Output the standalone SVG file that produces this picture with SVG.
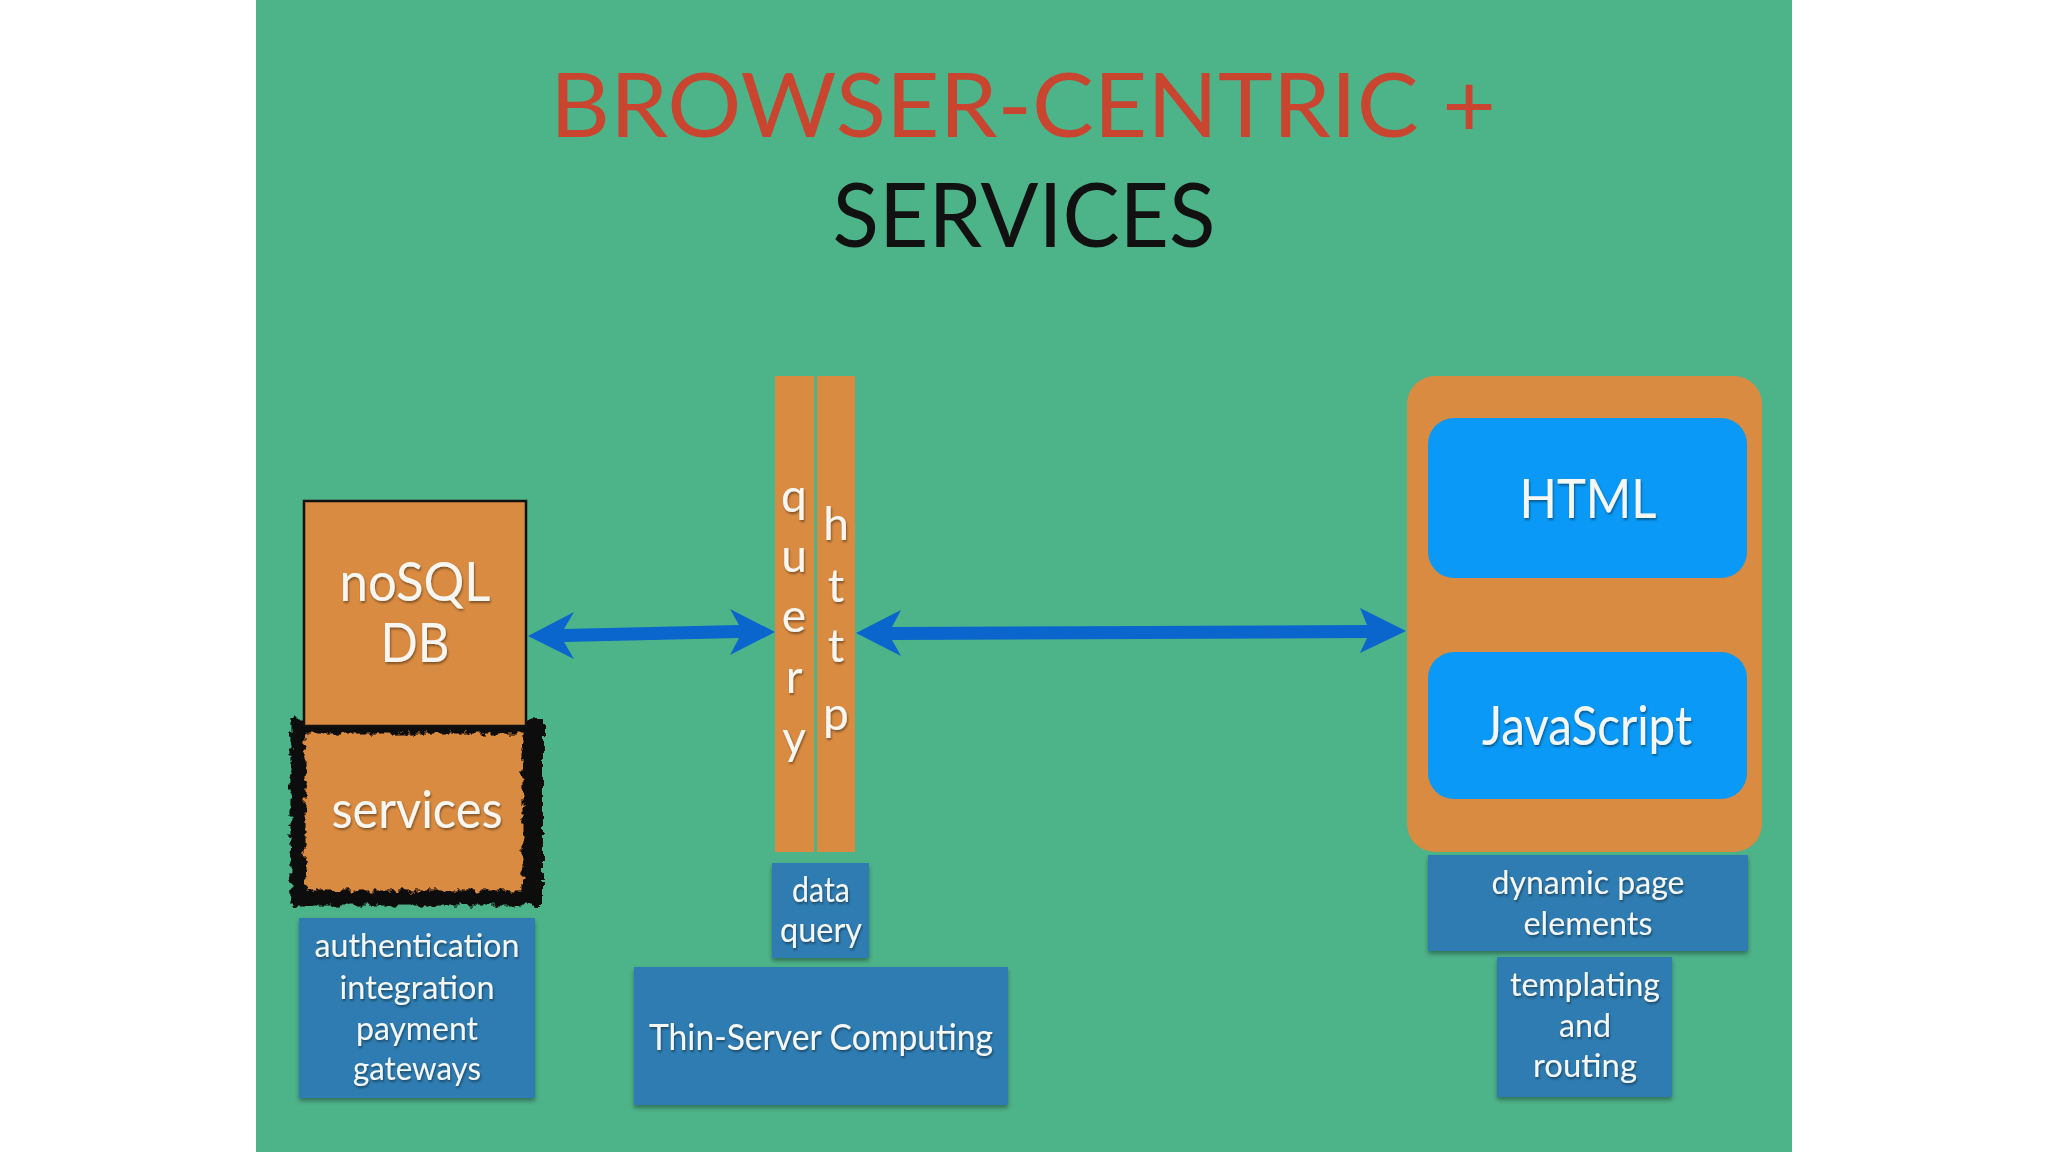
<svg xmlns="http://www.w3.org/2000/svg" width="2048" height="1152" viewBox="0 0 2048 1152">
<defs>
<style>
.t{font-family:Lato,"Open Sans","Liberation Sans",sans-serif;fill:#f6f6f2;text-anchor:middle}
.orange{fill:#d98b41}
.blue{fill:#2e7bb1}
.bright{fill:#0a99f6}
.arrow{fill:#0a66cc}
</style>
<filter id="sh" x="-10%" y="-10%" width="120%" height="130%">
<feDropShadow dx="0" dy="3" stdDeviation="2" flood-color="#000" flood-opacity="0.35"/>
</filter>
<filter id="tsh" x="-10%" y="-20%" width="120%" height="150%">
<feDropShadow dx="1" dy="2" stdDeviation="1.2" flood-color="#000" flood-opacity="0.4"/>
</filter>
<filter id="rough" x="-10%" y="-10%" width="120%" height="120%">
<feTurbulence type="fractalNoise" baseFrequency="0.12" numOctaves="3" seed="4" result="n"/>
<feDisplacementMap in="SourceGraphic" in2="n" scale="11" xChannelSelector="R" yChannelSelector="G"/>
</filter>
</defs>
<rect x="0" y="0" width="2048" height="1152" fill="#ffffff"/>
<rect x="256" y="0" width="1536" height="1152" fill="#4db389"/>

<g id="title">
<text class="t" x="1023" y="137" font-size="90" textLength="946" lengthAdjust="spacingAndGlyphs" style="fill:#c9452f">BROWSER-CENTRIC +</text>
<text class="t" x="1024" y="247" font-size="90" textLength="383" lengthAdjust="spacingAndGlyphs" style="fill:#111111">SERVICES</text>
</g>

<g id="services">
<rect class="orange" x="300" y="724" width="236" height="176"/>
<g filter="url(#rough)" fill="none" stroke="#0a0a0a">
<rect x="298" y="726" width="232" height="172" stroke-width="15"/>
<rect x="294" y="722" width="246" height="180" stroke-width="6"/>
<rect x="525" y="728" width="16" height="166" fill="#0a0a0a" stroke="none"/>
</g>
<text class="t" x="417" y="828" font-size="52" textLength="171" lengthAdjust="spacingAndGlyphs" filter="url(#tsh)">services</text>
</g>

<g id="nosql">
<rect class="orange" x="304" y="501" width="222" height="225" stroke="#111" stroke-width="2.5"/>
<text class="t" x="415" y="601" font-size="54" textLength="151" lengthAdjust="spacingAndGlyphs" filter="url(#tsh)">noSQL</text>
<text class="t" x="415" y="662" font-size="54" textLength="69" lengthAdjust="spacingAndGlyphs" filter="url(#tsh)">DB</text>
</g>

<g id="auth">
<rect class="blue" x="299" y="918" width="236" height="180" filter="url(#sh)"/>
<g font-size="32" filter="url(#tsh)">
<text class="t" x="417" y="957" textLength="205" lengthAdjust="spacingAndGlyphs">authentication</text>
<text class="t" x="417" y="999" textLength="155" lengthAdjust="spacingAndGlyphs">integration</text>
<text class="t" x="417" y="1040" textLength="122" lengthAdjust="spacingAndGlyphs">payment</text>
<text class="t" x="417" y="1080" textLength="128" lengthAdjust="spacingAndGlyphs">gateways</text>
</g>
</g>

<g id="query-bar">
<rect class="orange" x="775" y="376" width="39" height="476"/>
<g font-size="46" filter="url(#tsh)">
<text class="t" x="794" y="512">q</text>
<text class="t" x="794" y="572">u</text>
<text class="t" x="794" y="632">e</text>
<text class="t" x="794" y="693">r</text>
<text class="t" x="794" y="754">y</text>
</g>
</g>

<g id="http-bar">
<rect class="orange" x="817" y="376" width="38" height="476"/>
<g font-size="46" filter="url(#tsh)">
<text class="t" x="836" y="540">h</text>
<text class="t" x="836" y="602">t</text>
<text class="t" x="836" y="662">t</text>
<text class="t" x="836" y="730">p</text>
</g>
</g>

<g id="data-query">
<rect class="blue" x="772" y="863" width="97" height="95" filter="url(#sh)"/>
<g font-size="34" filter="url(#tsh)">
<text class="t" x="821" y="902" textLength="58" lengthAdjust="spacingAndGlyphs">data</text>
<text class="t" x="821" y="942" textLength="82" lengthAdjust="spacingAndGlyphs">query</text>
</g>
</g>

<g id="thin-server">
<rect class="blue" x="634" y="967" width="374" height="138" filter="url(#sh)"/>
<text class="t" x="821" y="1050" font-size="36" textLength="344" lengthAdjust="spacingAndGlyphs" filter="url(#tsh)">Thin-Server Computing</text>
</g>

<g id="browser">
<rect class="orange" x="1407" y="376" width="355" height="476" rx="28"/>
</g>

<g id="html">
<rect class="bright" x="1428" y="418" width="319" height="160" rx="26"/>
<text class="t" x="1588" y="518" font-size="54" textLength="137" lengthAdjust="spacingAndGlyphs" filter="url(#tsh)">HTML</text>
</g>

<g id="javascript">
<rect class="bright" x="1428" y="652" width="319" height="147" rx="26"/>
<text class="t" x="1587" y="745" font-size="54" textLength="210" lengthAdjust="spacingAndGlyphs" filter="url(#tsh)">JavaScript</text>
</g>

<g id="dynamic">
<rect class="blue" x="1428" y="855" width="320" height="96" filter="url(#sh)"/>
<g font-size="33" filter="url(#tsh)">
<text class="t" x="1588" y="894" textLength="193" lengthAdjust="spacingAndGlyphs">dynamic page</text>
<text class="t" x="1588" y="935" textLength="129" lengthAdjust="spacingAndGlyphs">elements</text>
</g>
</g>

<g id="templating">
<rect class="blue" x="1497" y="957" width="175" height="140" filter="url(#sh)"/>
<g font-size="33" filter="url(#tsh)">
<text class="t" x="1585" y="996" textLength="150" lengthAdjust="spacingAndGlyphs">templating</text>
<text class="t" x="1585" y="1037" textLength="52" lengthAdjust="spacingAndGlyphs">and</text>
<text class="t" x="1585" y="1077" textLength="104" lengthAdjust="spacingAndGlyphs">routing</text>
</g>
</g>

<g id="connectors">
<polygon class="arrow" points="528,636 574,612 564,629 739,625 730,609 775,632 730,655 739,638 564,642 574,659"/>
<polygon class="arrow" points="856,633 901,610 892,627 1367,625 1360,608 1406,631 1360,653 1367,638 892,640 901,656"/>
</g>
</svg>
